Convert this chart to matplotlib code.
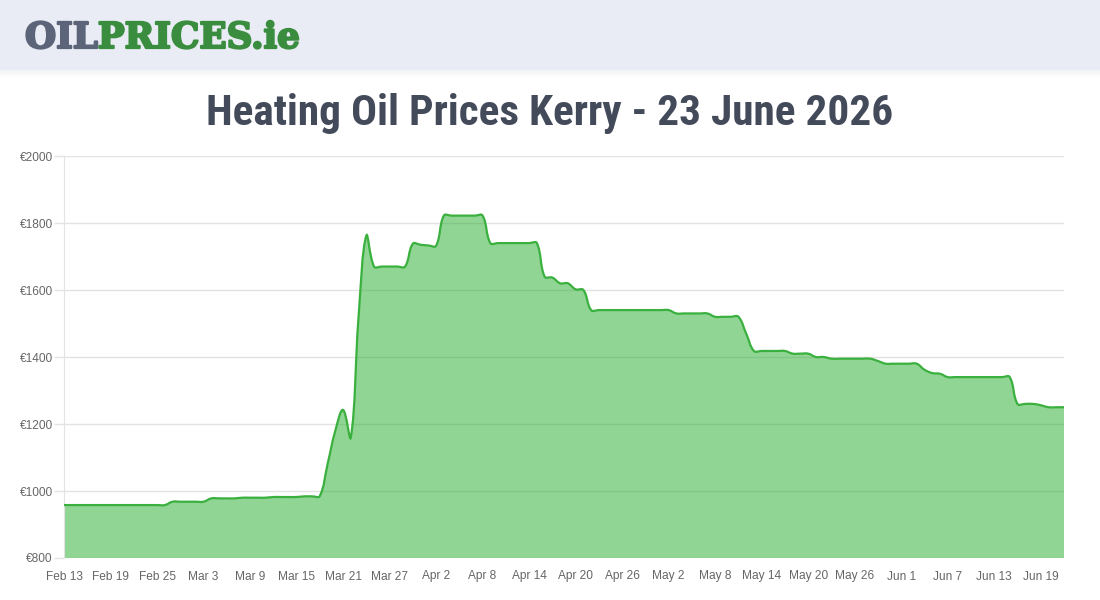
import numpy as np
import pandas as pd
import matplotlib
matplotlib.use("Agg")
import matplotlib.pyplot as plt
import matplotlib.patheffects as pe
from matplotlib.path import Path
from matplotlib.patches import PathPatch, Rectangle

# daily Kerry heating oil prices (EUR), starting 13 Feb 2026
start_date = "2026-02-13"
prices = [
    958, 958, 958, 958, 958, 958, 958, 958, 958, 958, 958, 958, 958, 958,
    968, 968, 968, 968, 968,
    978, 978, 978, 978,
    980, 980, 980, 980,
    982, 982, 982, 982,
    984, 984, 985,
    1080, 1180, 1242, 1160, 1520, 1762,
    1670, 1670, 1670, 1670, 1670,
    1738, 1735, 1733, 1732,
    1822, 1822, 1822, 1822, 1822, 1822,
    1740, 1740, 1740, 1740, 1740, 1740, 1740,
    1640, 1637, 1620, 1620, 1602, 1600,
    1540, 1540, 1540, 1540, 1540, 1540, 1540, 1540, 1540, 1540, 1540,
    1530, 1530, 1530, 1530, 1530,
    1520, 1520, 1520, 1520,
    1470,
    1418, 1418, 1418, 1418, 1418,
    1410, 1410, 1410,
    1400, 1400,
    1395, 1395, 1395, 1395, 1395, 1395,
    1388,
    1380, 1380, 1380, 1380, 1380,
    1362, 1352, 1350,
    1340, 1340, 1340, 1340, 1340, 1340, 1340, 1340, 1340,
    1260, 1260, 1260,
    1256,
    1250, 1250, 1250,
]
y_ticks = [800, 1000, 1200, 1400, 1600, 1800, 2000]
label_step = 6
title = "Heating Oil Prices Kerry - 23 June 2026"

dates = pd.date_range(start_date, periods=len(prices), freq="D")
labels = [d.strftime("%b ") + str(d.day) for d in dates]

W, H = 1100, 600
fig = plt.figure(figsize=(W / 100, H / 100), dpi=100)
fig.patch.set_facecolor("white")

# header band with soft shadow
for k in range(8):
    fig.patches.append(Rectangle((0, 1 - (70 + k) / H), 1, 1 / H, transform=fig.transFigure,
                                 facecolor="#c8ccd6", alpha=0.25 * (1 - k / 8), edgecolor="none"))
fig.patches.append(Rectangle((0, 1 - 70 / H), 1, 70 / H, transform=fig.transFigure,
                             facecolor="#e9ecf4", edgecolor="none"))

def fit_width(txt, target_px):
    fig.canvas.draw()
    w = txt.get_window_extent().width
    txt.set_fontsize(txt.get_fontsize() * target_px / w)

# logo
logo_font = dict(family="DejaVu Serif", weight="bold", fontsize=24, va="center", ha="left")
t1 = fig.text(25 / W, 1 - 38 / H, "OIL", color="#5b6478", **logo_font)
t2 = fig.text(0, 1 - 38 / H, "PRICES.ie", color="#3a8d3e", **logo_font)
fig.canvas.draw()
tw = t1.get_window_extent().width + t2.get_window_extent().width
for t in (t1, t2):
    t.set_fontsize(24 * 276 / tw)
fig.canvas.draw()
t2.set_x(t1.get_window_extent().x1 / W)
t1.set_path_effects([pe.withStroke(linewidth=1.6, foreground="#5b6478")])
t2.set_path_effects([pe.withStroke(linewidth=1.6, foreground="#3a8d3e")])

# title
tt = fig.text(0.5, 1 - 113 / H, title, family=["Roboto Condensed", "Roboto", "DejaVu Sans"],
              weight="bold", fontsize=30, color="#434b5a", ha="center", va="center")
fit_width(tt, 688)

ax = fig.add_axes([64 / W, 42 / H, 1000 / W, 402 / H])
n = len(prices)
ax.set_xlim(0, n - 1)
ax.set_ylim(y_ticks[0], y_ticks[-1])

# Chart.js-like bezier smoothing (tension 0.4), computed in pixel space
sx = 1000 / (n - 1)
sy = 402 / (y_ticks[-1] - y_ticks[0])
pts = np.column_stack([np.arange(n) * sx, np.array(prices, float) * sy])
tension = 0.4
cprev = np.zeros_like(pts)
cnext = np.zeros_like(pts)
for i in range(n):
    p0 = pts[i - 1] if i > 0 else pts[i]
    p1 = pts[i]
    p2 = pts[i + 1] if i < n - 1 else pts[i]
    d01 = np.hypot(*(p1 - p0))
    d12 = np.hypot(*(p2 - p1))
    tot = d01 + d12
    s01 = d01 / tot if tot else 0
    s12 = d12 / tot if tot else 0
    cprev[i] = p1 - tension * s01 * (p2 - p0)
    cnext[i] = p1 + tension * s12 * (p2 - p0)

verts = [pts[0]]
codes = [Path.MOVETO]
for i in range(1, n):
    verts += [cnext[i - 1], cprev[i], pts[i]]
    codes += [Path.CURVE4] * 3
verts = np.array(verts)
verts[:, 0] /= sx
verts[:, 1] /= sy

line_path = Path(verts, codes)
fill_verts = np.vstack([verts, [[n - 1, y_ticks[0]], [0, y_ticks[0]], [0, y_ticks[0]]]])
fill_codes = codes + [Path.LINETO, Path.LINETO, Path.CLOSEPOLY]
ax.add_patch(PathPatch(Path(fill_verts, fill_codes), facecolor=(0.145, 0.675, 0.165, 0.5),
                       edgecolor="none", zorder=2))
ax.add_patch(PathPatch(line_path, facecolor="none", edgecolor="#3ab03e", lw=1.6, zorder=3))

ax.set_yticks(y_ticks)
ax.set_yticklabels(["€" + str(v) for v in y_ticks])
ax.set_xticks(range(0, n, label_step))
ax.set_xticklabels(labels[::label_step])
ax.grid(axis="y", color="#e3e3e3", lw=1, zorder=1)
ax.set_axisbelow(True)
ax.tick_params(axis="y", length=7, width=1, color="#e3e3e3", pad=1, labelsize=8.6,
               labelcolor="#666666")
ax.tick_params(axis="x", length=0, pad=9, labelsize=8.6, labelcolor="#666666")
for lab in ax.get_xticklabels() + ax.get_yticklabels():
    lab.set_family(["Liberation Sans", "DejaVu Sans"])
for s in ["top", "right", "bottom"]:
    ax.spines[s].set_visible(False)
ax.spines["left"].set_color("#e3e3e3")

fig.savefig("out.png", dpi=100)
